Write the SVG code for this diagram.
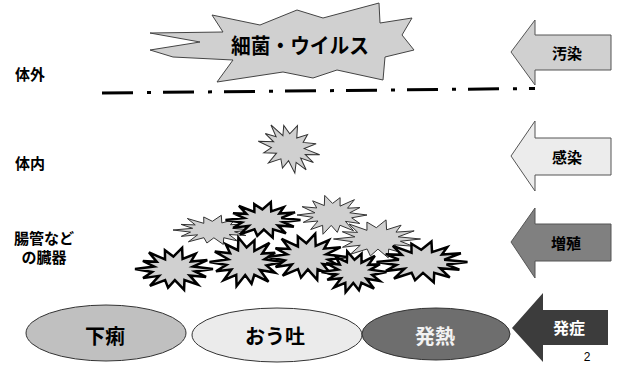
<svg xmlns="http://www.w3.org/2000/svg" xmlns:xlink="http://www.w3.org/1999/xlink" width="621" height="365" viewBox="0 0 621 365">
<style>
.t{font-family:"Noto Sans CJK JP","Liberation Sans",sans-serif;font-weight:bold;fill:#000;dominant-baseline:central}
.lbl{font-size:15px}
.arr{stroke:#555;stroke-width:1}
.ell{stroke:#333;stroke-width:1}
.thin{fill:#d0d0d0;stroke:#333;stroke-width:1}
.thick{fill:#d0d0d0;stroke:#000;stroke-width:2.5}
</style>
<defs>
<polygon id="burst" vector-effect="non-scaling-stroke" stroke-linejoin="miter" points="50,0 26.9,2.9 41.1,9.2 20,7.5 30.5,18.2 13.4,12.9 12.9,24.1 1.1,13 -7.6,21.7 -11.4,12.8 -30.8,19.7 -19.2,8 -39.7,10.6 -28.1,3.5 -50,0 -25.4,-2.8 -39.9,-9.3 -22.2,-8.5 -32.1,-19.2 -11.5,-11.1 -11.6,-21.7 -0.8,-14.5 10.4,-24.5 11,-11.8 27.7,-17.7 21.8,-8.8 42.7,-10.4 24.4,-2.8"/>
</defs>
<rect width="621" height="365" fill="#fff"/>

<g id="boundary">
<line x1="102" y1="93" x2="535" y2="88.5" stroke="#000" stroke-width="3" stroke-dasharray="31 14 4 12"/>
</g>

<g id="germs">
<polygon points="212,15 260,25 297,10 323,18 379,3 380,23 412,18 402,35 414,50 385,57 383,80 337,70 313,78 283,72 217,82 233,60 173,57 150,50 200,42 150,33 223,32" fill="#d0d0d0" stroke="#444" stroke-width="1"/>
<text class="t" x="300" y="44" font-size="21" text-anchor="middle" textLength="138" lengthAdjust="spacingAndGlyphs">細菌・ウイルス</text>
</g>

<g id="label-outside"><text class="t lbl" x="15" y="73">体外</text></g>
<g id="label-inside"><text class="t lbl" x="15" y="162">体内</text></g>
<g id="label-organs">
<text class="t lbl" x="44" y="237" text-anchor="middle">腸管など</text>
<text class="t lbl" x="44" y="256" text-anchor="middle">の臓器</text>
</g>

<g id="burst-inside">
<use xlink:href="#burst" class="thin" transform="translate(289,148) scale(0.62,0.98) rotate(8)"/>
</g>

<g id="burst-cluster">
<use xlink:href="#burst" class="thin" transform="translate(213,230) scale(0.8,0.6)"/>
<use xlink:href="#burst" class="thin" transform="translate(332,215) scale(-0.7,0.8)"/>
<use xlink:href="#burst" class="thick" transform="translate(263,220) scale(0.75,0.73)"/>
<use xlink:href="#burst" class="thin" transform="translate(377,239) scale(0.87,0.78)"/>
<use xlink:href="#burst" class="thick" transform="translate(174,269) scale(0.78,0.86)"/>
<use xlink:href="#burst" class="thick" transform="translate(246,262) scale(-0.73,1.0)"/>
<use xlink:href="#burst" class="thick" transform="translate(307,257) scale(0.79,0.95)"/>
<use xlink:href="#burst" class="thick" transform="translate(354,272) scale(-0.65,0.84)"/>
<use xlink:href="#burst" class="thick" transform="translate(422,262) scale(0.91,0.84)"/>
</g>

<g id="arrow-contamination">
<polygon class="arr" points="511,52 535,20 535,35 611,35 611,70 535,70 535,85" fill="#d0d0d0"/>
<text class="t" x="567" y="52" font-size="15" text-anchor="middle">汚染</text>
</g>
<g id="arrow-infection">
<polygon class="arr" points="511,156 535,121 535,138 611,138 611,175 535,175 535,191" fill="#ececec"/>
<text class="t" x="567" y="156" font-size="15" text-anchor="middle">感染</text>
</g>
<g id="arrow-growth">
<polygon class="arr" points="511,242 535,208 535,224 611,224 611,261 535,261 535,278" fill="#808080"/>
<text class="t" x="566" y="242" font-size="15" text-anchor="middle">増殖</text>
</g>

<g id="diarrhea">
<ellipse class="ell" cx="106" cy="333" rx="80" ry="28" fill="#c0c0c0"/>
<text class="t" x="105" y="335" font-size="20" text-anchor="middle">下痢</text>
</g>
<g id="vomiting">
<ellipse class="ell" cx="277" cy="335" rx="85" ry="27" fill="#ebebeb"/>
<text class="t" x="275" y="335" font-size="20" text-anchor="middle">おう吐</text>
</g>
<g id="fever">
<ellipse class="ell" cx="436" cy="334" rx="74" ry="26" fill="#6e6e6e"/>
<text class="t" x="435" y="335" font-size="20" text-anchor="middle" style="fill:#f2f2f2">発熱</text>
</g>

<g id="arrow-onset">
<polygon points="512,328 543,293 543,310 608,310 608,345 543,345 543,362" fill="#3c3c3c"/>
<text class="t" x="569" y="327" font-size="16" text-anchor="middle" style="fill:#fff">発症</text>
</g>

<g id="page-number">
<text x="587" y="361" font-family="Liberation Sans, sans-serif" font-size="12" text-anchor="middle" fill="#000">2</text>
</g>
</svg>
